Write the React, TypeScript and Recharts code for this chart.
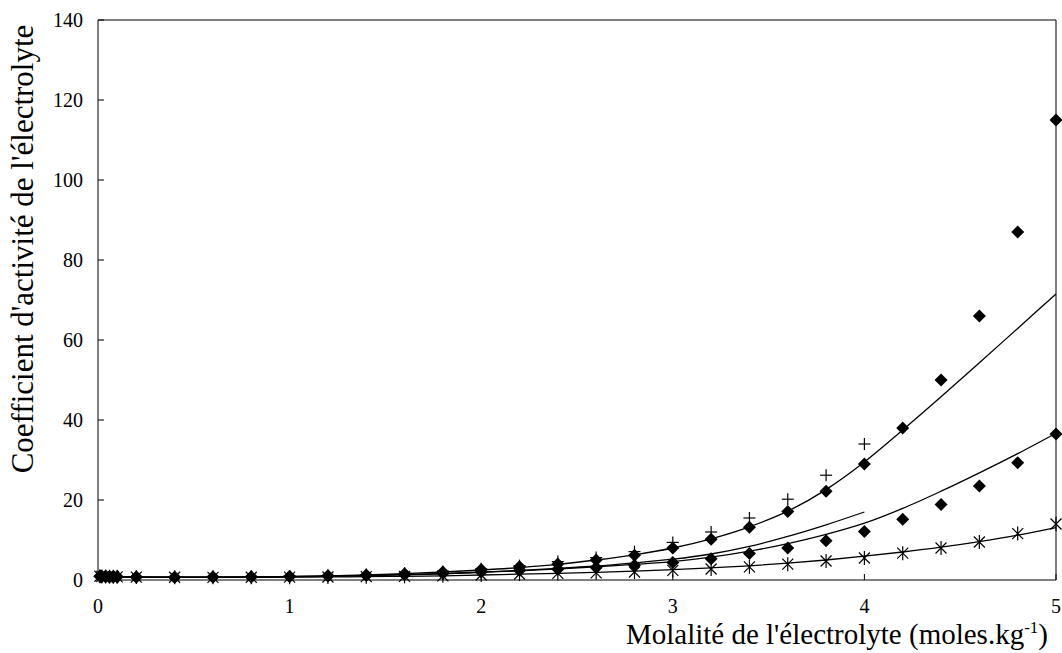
import { ComposedChart, Line, XAxis, YAxis, ReferenceLine } from 'recharts'

const molality = [0.01, 0.02, 0.04, 0.06, 0.08, 0.1, 0.2, 0.4, 0.6, 0.8, 1.0, 1.2, 1.4, 1.6, 1.8, 2.0, 2.2, 2.4, 2.6, 2.8, 3.0, 3.2, 3.4, 3.6, 3.8, 4.0, 4.2, 4.4, 4.6, 4.8, 5.0]

// measured points
const diamondHigh = [0.93, 0.9, 0.86, 0.83, 0.81, 0.79, 0.74, 0.71, 0.73, 0.8, 0.9, 1.05, 1.27, 1.55, 2.0, 2.6, 3.3, 4.0, 5.0, 6.2, 8.0, 10.2, 13.2, 17.1, 22.2, 29, 38, 50, 66, 87, 115]
const plusPts = [0.93, 0.9, 0.86, 0.83, 0.81, 0.79, 0.74, 0.72, 0.75, 0.83, 0.95, 1.12, 1.36, 1.68, 2.1, 2.8, 3.6, 4.6, 5.6, 7.1, 9.4, 12.0, 15.5, 20.2, 26.2, 34, null, null, null, null, null]
const diamondLow = [0.93, 0.9, 0.86, 0.83, 0.81, 0.79, 0.74, 0.71, 0.72, 0.77, 0.85, 0.97, 1.12, 1.33, 1.6, 2.0, 2.4, 2.7, 3.1, 3.7, 4.4, 5.3, 6.6, 8.0, 9.8, 12.1, 15.2, 18.9, 23.5, 29.3, 36.5]
const starPts = [0.93, 0.9, 0.86, 0.83, 0.81, 0.79, 0.73, 0.68, 0.67, 0.68, 0.71, 0.76, 0.83, 0.92, 1.05, 1.25, 1.5, 1.65, 1.8, 2.0, 2.4, 2.75, 3.3, 3.95, 4.75, 5.5, 6.7, 8.0, 9.5, 11.6, 14.0]

// model curves
const fitHigh = [0.93, 0.9, 0.86, 0.83, 0.81, 0.79, 0.74, 0.71, 0.73, 0.8, 0.9, 1.05, 1.28, 1.58, 2.0, 2.5, 3.1, 3.9, 5.0, 6.3, 8.0, 10.3, 13.3, 17.2, 22.6, 29.5, 37.5, 45.8, 54.3, 62.9, 71.5]
const fitMid = [0.93, 0.9, 0.86, 0.83, 0.81, 0.79, 0.74, 0.71, 0.72, 0.77, 0.85, 0.97, 1.13, 1.35, 1.62, 2.0, 2.4, 2.9, 3.5, 4.3, 5.2, 6.5, 8.4, 10.9, 13.8, 17.0, null, null, null, null, null]
const fitLow = [0.93, 0.9, 0.86, 0.83, 0.81, 0.79, 0.74, 0.71, 0.72, 0.76, 0.83, 0.94, 1.08, 1.28, 1.55, 1.9, 2.3, 2.8, 3.3, 3.9, 4.6, 5.7, 7.2, 9.1, 11.4, 14.2, 17.9, 22.2, 26.8, 31.6, 36.7]
const fitStar = [0.93, 0.9, 0.86, 0.83, 0.81, 0.79, 0.73, 0.68, 0.67, 0.68, 0.71, 0.76, 0.83, 0.92, 1.05, 1.25, 1.45, 1.65, 1.9, 2.2, 2.6, 3.05, 3.55, 4.2, 5.0, 5.95, 7.0, 8.2, 9.6, 11.2, 13.1]

const xTicks = [0, 1, 2, 3, 4, 5]
const yTicks = [0, 20, 40, 60, 80, 100, 120, 140]

const data = molality.map((m, i) => ({
  m,
  diamondHigh: diamondHigh[i],
  plusPts: plusPts[i],
  diamondLow: diamondLow[i],
  starPts: starPts[i],
  fitHigh: fitHigh[i],
  fitMid: fitMid[i],
  fitLow: fitLow[i],
  fitStar: fitStar[i],
}))

const serif = { fontFamily: "'Liberation Serif', 'Times New Roman', Times, 'DejaVu Serif', serif" }

function Diamond(props: any) {
  const { cx, cy, index } = props
  if (cx == null || cy == null) return <g key={index} />
  const r = 6.5
  return <path key={index} d={`M${cx},${cy - r}L${cx + r},${cy}L${cx},${cy + r}L${cx - r},${cy}Z`} fill="#000" />
}

function Plus(props: any) {
  const { cx, cy, index } = props
  if (cx == null || cy == null) return <g key={index} />
  const r = 6
  return (
    <g key={index} stroke="#000" strokeWidth={1.2}>
      <line x1={cx - r} x2={cx + r} y1={cy} y2={cy} />
      <line x1={cx} x2={cx} y1={cy - r} y2={cy + r} />
    </g>
  )
}

function Star(props: any) {
  const { cx, cy, index } = props
  if (cx == null || cy == null) return <g key={index} />
  const r = 5.5
  return (
    <g key={index} stroke="#000" strokeWidth={1.2}>
      <line x1={cx - r} x2={cx + r} y1={cy - r} y2={cy + r} />
      <line x1={cx - r} x2={cx + r} y1={cy + r} y2={cy - r} />
      <line x1={cx} x2={cx} y1={cy - 7} y2={cy + 7} />
    </g>
  )
}

function YTick({ x, y, payload }: any) {
  const ax = x + 15
  return (
    <g>
      <line x1={ax} x2={ax + 6} y1={y} y2={y} stroke="#000" />
      <text x={x} y={y} dy="0.35em" textAnchor="end" style={serif} fontSize={20} fill="#000">{payload.value}</text>
    </g>
  )
}

function XTick({ x, y, payload }: any) {
  const ay = y - 26
  return (
    <g>
      <line x1={x} x2={x} y1={ay} y2={ay - 6} stroke="#000" />
      <text x={x} y={y} dy="0.35em" textAnchor="middle" style={serif} fontSize={20} fill="#000">{payload.value}</text>
    </g>
  )
}

export default function App() {
  return (
    <div style={{ position: 'absolute', left: 0, top: 0, background: '#fff', ...serif }}>
      <ComposedChart width={1062} height={653} data={data} margin={{ top: 20, right: 6, bottom: 0, left: 0 }}>
        <XAxis
          dataKey="m"
          type="number"
          domain={[0, 5]}
          ticks={xTicks}
          height={73}
          tickSize={0}
          tickMargin={26}
          tickLine={false}
          axisLine={{ stroke: '#000' }}
          tick={<XTick />}
          label={{
            content: () => (
              <text x={1048} y={644} textAnchor="end" style={serif} fontSize={29} fill="#000">
                Molalité de l'électrolyte (moles.kg<tspan dy={-11} fontSize={17}>-1</tspan><tspan dy={11}>)</tspan>
              </text>
            ),
          }}
        />
        <YAxis
          type="number"
          domain={[0, 140]}
          ticks={yTicks}
          width={98}
          tickSize={0}
          tickMargin={15}
          tickLine={false}
          axisLine={{ stroke: '#000' }}
          tick={<YTick />}
          label={{
            content: () => (
              <text x={0} y={0} transform="translate(33, 249) rotate(-90)" textAnchor="middle" style={serif} fontSize={31} fill="#000">
                Coefficient d'activité de l'électrolyte
              </text>
            ),
          }}
        />
        <ReferenceLine y={140} stroke="#000" />
        <ReferenceLine x={5} stroke="#000" />
        <Line dataKey="fitHigh" type="monotone" stroke="#000" strokeWidth={1.3} dot={false} activeDot={false} isAnimationActive={false} />
        <Line dataKey="fitMid" type="monotone" stroke="#000" strokeWidth={1.3} dot={false} activeDot={false} isAnimationActive={false} />
        <Line dataKey="fitLow" type="monotone" stroke="#000" strokeWidth={1.3} dot={false} activeDot={false} isAnimationActive={false} />
        <Line dataKey="fitStar" type="monotone" stroke="#000" strokeWidth={1.3} dot={false} activeDot={false} isAnimationActive={false} />
        <Line dataKey="plusPts" stroke="none" dot={<Plus />} activeDot={false} isAnimationActive={false} />
        <Line dataKey="starPts" stroke="none" dot={<Star />} activeDot={false} isAnimationActive={false} />
        <Line dataKey="diamondLow" stroke="none" dot={<Diamond />} activeDot={false} isAnimationActive={false} />
        <Line dataKey="diamondHigh" stroke="none" dot={<Diamond />} activeDot={false} isAnimationActive={false} />
      </ComposedChart>
    </div>
  )
}
